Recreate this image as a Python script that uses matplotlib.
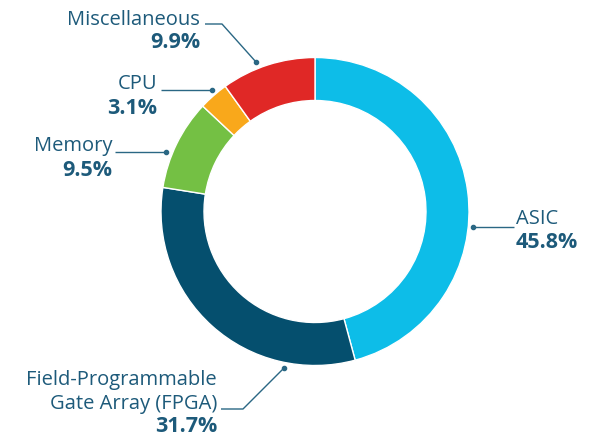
import matplotlib
matplotlib.use('Agg')
import matplotlib.pyplot as plt

# market share by chip type
labels = ['ASIC', 'Field-Programmable\nGate Array (FPGA)', 'Memory', 'CPU', 'Miscellaneous']
shares = [45.8, 31.7, 9.5, 3.1, 9.9]
colors = ['#0dbde8', '#054f6e', '#74c044', '#f9a81b', '#e02826']

W, H = 598, 437
text_color = '#1d5a7a'
line_color = '#2a6784'

plt.rcParams['font.family'] = ['Open Sans', 'DejaVu Sans']

fig = plt.figure(figsize=(W / 100, H / 100), dpi=100)
ax = fig.add_axes([0, 0, 1, 1])

def py(y):
    # pixel row (top down) -> axes y
    return H - y

cx, cy, r_out, r_in = 315, 211.5, 154, 111
ax.pie(shares, colors=colors, startangle=90, counterclock=False,
       center=(cx, py(cy)), radius=r_out, frame=True,
       wedgeprops=dict(width=r_out - r_in, edgecolor='white', linewidth=1))
ax.set_xlim(0, W)
ax.set_ylim(0, H)
ax.set_aspect('equal')
ax.axis('off')

# leader lines: (points of polyline), dot at the last point
leaders = [
    [(514, 227), (473, 227)],
    [(221, 409), (243, 409), (284, 368)],
    [(115, 152), (166, 152)],
    [(161, 90), (212, 90)],
    [(205, 24), (222, 24), (256, 62)],
]
# label anchor: x, y of name, y of percentage, alignment
anchors = [
    (516, 219, 243, 'left'),
    (217, 392, 427, 'right'),
    (112, 146, 170, 'right'),
    (157, 84, 108, 'right'),
    (200, 20, 43, 'right'),
]

for lab, val, pts, (x, yn, yp, ha) in zip(labels, shares, leaders, anchors):
    xs = [p[0] for p in pts]
    ys = [py(p[1]) for p in pts]
    ax.plot(xs, ys, color=line_color, lw=1, solid_capstyle='butt')
    ax.plot(xs[-1], ys[-1], 'o', color=line_color, ms=3)
    ax.text(x, py(yn), lab, ha=ha, va='center', multialignment=ha,
            fontsize=14.5, color=text_color, linespacing=1.2)
    ax.text(x, py(yp), f'{val}%', ha=ha, va='center',
            fontsize=15.5, fontweight='bold', color=text_color)

fig.savefig('out.png', dpi=100, facecolor='white')
